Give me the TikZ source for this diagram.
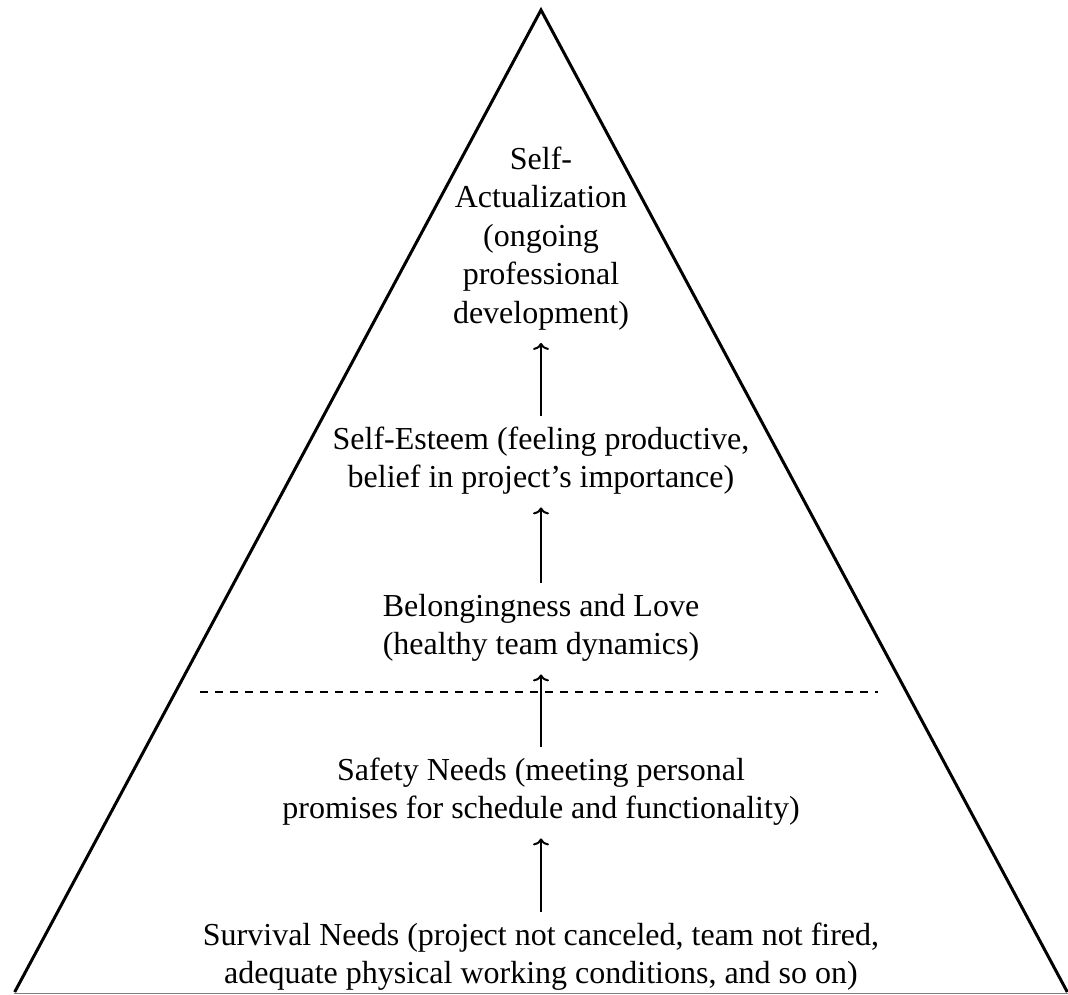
\documentclass[tikz,border=0pt]{standalone}
\usepackage{fontspec}
\setmainfont{Liberation Serif}
\usetikzlibrary{arrows.meta}
\begin{document}
\begin{tikzpicture}[x=1pt,y=-1pt,
  level/.style={anchor=north, align=center, inner sep=0pt,
    font=\fontsize{32}{38.5}\selectfont},
  side/.style={line width=3pt, line join=miter},
  uparrow/.style={line width=2pt, -{To[length=7pt,width=16pt]},
    shorten <=6pt, shorten >=8pt},
  divider/.style={line width=2pt, dash pattern=on 8pt off 7pt}]
\useasboundingbox (0,0) rectangle (1068,994);

% pyramid outline
\coordinate (apex) at (541,10);
\coordinate (bl) at (14.7,992);
\coordinate (br) at (1067.3,992);
\draw[side] (bl) -- (apex) -- (br);
\draw[gray, line width=1pt] (14,993.2) -- (1068,993.2);

% hierarchy levels (north anchor = first baseline - strut height)
\node[level] (act) at (541,142) {\strut Self-\\\strut Actualization\\\strut (ongoing\\\strut professional\\\strut development)};
\node[level] (est) at (541,422) {\strut Self-Esteem (feeling productive,\\\strut belief in project’s importance)};
\node[level] (bel) at (541,589) {\strut Belongingness and Love\\\strut (healthy team dynamics)};
\node[level] (saf) at (541,753) {\strut Safety Needs (meeting personal\\\strut promises for schedule and functionality)};
\node[level] (sur) at (541,918) {\strut Survival Needs (project not canceled, team not fired,\\\strut adequate physical working conditions, and so on)};

% boundary between lower and higher needs
\coordinate (dl) at (200,692);
\coordinate (dr) at (878,692);
\draw[divider] (dl) -- (dr);

% progression arrows
\draw[uparrow] (sur.north) -- (saf.south);
\draw[uparrow] (saf.north) -- (bel.south);
\draw[uparrow] (bel.north) -- (est.south);
\draw[uparrow] (est.north) -- (act.south);
\end{tikzpicture}
\end{document}
